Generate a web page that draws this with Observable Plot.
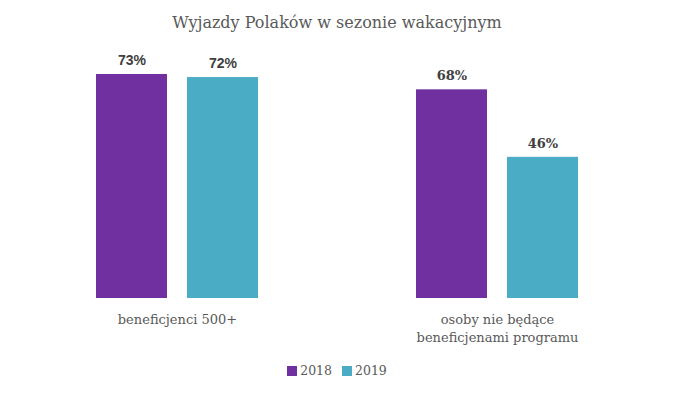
<!DOCTYPE html>
<html><head><meta charset="utf-8">
<script src="https://cdn.jsdelivr.net/npm/d3@7"></script>
<script src="https://cdn.jsdelivr.net/npm/@observablehq/plot@0.6"></script>
<style>
body{margin:0;background:#fff;}
#title{height:46px;line-height:46px;text-align:center;font-family:"DejaVu Serif";font-size:16px;color:#595959;}
body .lg-swatches-wrap{justify-content:center;margin-top:6px;padding-left:10px;}
body .lg-swatch{margin-right:10px;}
body .lg-swatch svg{margin-right:3px;}
</style></head><body>
<div id="title"></div>
<div id="chart"></div>
<script>
const title = "Wyjazdy Polaków w sezonie wakacyjnym";
const groups = ["beneficjenci 500+", "osoby nie będące beneficjenami programu"];
const groupLabels = ["beneficjenci 500+", "osoby nie będące\nbeneficjenami programu"];
const years = ["2018", "2019"];
const values2018 = [73, 68];
const values2019 = [72, 46];
const colors = ["#7030A0", "#4BACC6"];

const rows = groups.flatMap((g, i) => [
  {group: g, year: years[0], value: values2018[i]},
  {group: g, year: years[1], value: values2019[i]}
]);

document.getElementById("title").textContent = title;

const plot = Plot.plot({
  width: 674,
  height: 302,
  marginLeft: 96,
  marginRight: 96,
  marginTop: 6.5,
  marginBottom: 50,
  style: {fontFamily: "DejaVu Serif", background: "#fff"},
  fx: {domain: groups, paddingInner: 0.494, paddingOuter: 0, label: null},
  x: {domain: years, paddingInner: 0.22, paddingOuter: 0, axis: null},
  y: {domain: [0, 80], axis: null},
  color: {domain: years, range: colors},
  marks: [
    Plot.barY(rows, {fx: "group", x: "year", y: "value", fill: "year"}),
    Plot.text(rows.filter(d => d.group === groups[0]), {fx: "group", x: "year", y: "value", text: d => d.value + "%", dy: -14, fontWeight: "bold", fontSize: 14, fill: "#404040", fontFamily: "Liberation Sans"}),
    Plot.text(rows.filter(d => d.group === groups[1]), {fx: "group", x: "year", y: "value", text: d => d.value + "%", dy: -14, fontWeight: "bold", fontSize: 13, fill: "#404040", fontFamily: "DejaVu Serif"}),
    Plot.axisFx({anchor: "bottom", tickSize: 0, tickPadding: 13, fontSize: 13, lineHeight: 1.38, fill: "#595959", label: null, tickFormat: g => groupLabels[groups.indexOf(g)]})
  ]
});
document.getElementById("chart").appendChild(plot);

const legend = Plot.legend({
  color: {domain: years, range: colors},
  swatchSize: 10,
  className: "lg",
  style: {fontFamily: "DejaVu Serif", fontSize: "12.5px", color: "#595959"}
});
document.getElementById("chart").appendChild(legend);
</script>
</body></html>
